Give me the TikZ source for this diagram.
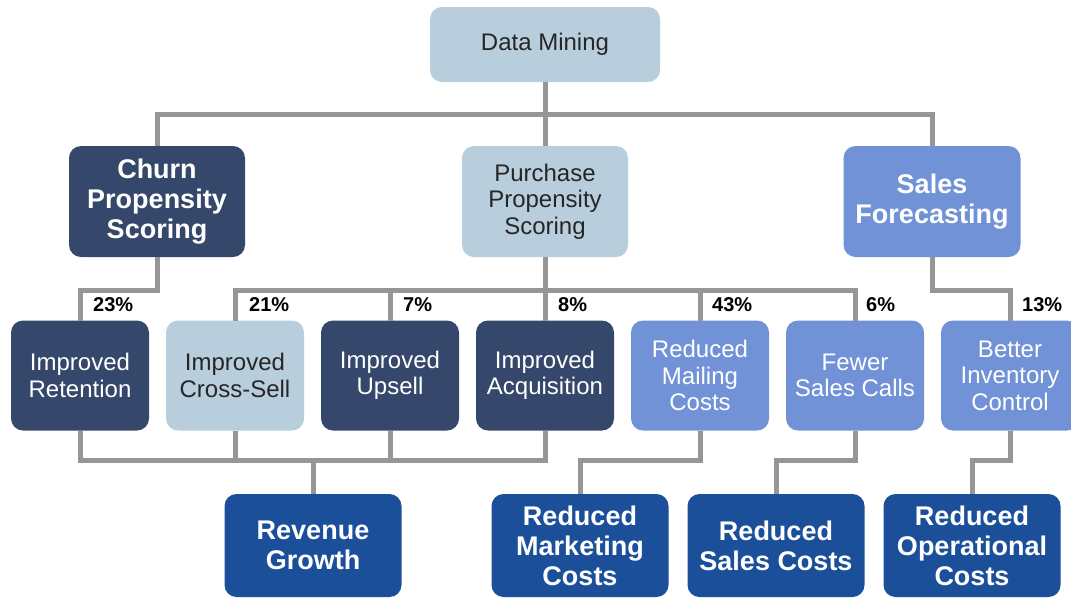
\documentclass[tikz,border=0pt]{standalone}
\usepackage{fontspec}
\setmainfont{Liberation Sans}
\usetikzlibrary{positioning}

\definecolor{pale}{HTML}{B8CEDC}
\definecolor{navy}{HTML}{35476A}
\definecolor{sky}{HTML}{7192D6}
\definecolor{royal}{HTML}{1B4F9A}
\definecolor{wire}{HTML}{969696}

\begin{document}
\begin{tikzpicture}[x=1pt,y=-1pt,
  box/.style={rounded corners=12pt,align=center,inner sep=0pt,outer sep=0pt,font=\fontsize{24}{26.5}\selectfont},
  bold/.style={font=\bfseries\fontsize{27}{30}\selectfont},
  head/.style={box,minimum height=111pt},
  mid/.style={box,minimum width=138pt,minimum height=110pt},
  low/.style={box,bold,minimum width=177pt,minimum height=103pt},
  paleb/.style={fill=pale,text=black!85},
  navyb/.style={fill=navy,text=white},
  skyb/.style={fill=sky,text=white},
  royalb/.style={fill=royal,text=white},
  link/.style={draw=wire,line width=5pt},
  pct/.style={font=\bfseries\fontsize{20}{20}\selectfont,anchor=west,inner sep=0pt},
  node distance=17pt]
\useasboundingbox (0,0) rectangle (1071,598);

% root and the three scoring models
\node[box,paleb,minimum width=230pt,minimum height=75pt] (mining) at (545,44.5) {Data Mining};
\node[head,bold,navyb,minimum width=176pt] (churn) at (157,201.5) {Churn\\Propensity\\Scoring};
\node[head,paleb,minimum width=166pt] (purch) at (545,201.5) {Purchase\\Propensity\\Scoring};
\node[head,bold,skyb,minimum width=177pt] (sales) at (932,201.5) {Sales\\Forecasting};

% benefits
\node[mid,navyb] (ret) at (80,375.5) {Improved\\Retention};
\node[mid,paleb,right=of ret] (xsell) {Improved\\Cross-Sell};
\node[mid,navyb,right=of xsell] (upsell) {Improved\\Upsell};
\node[mid,navyb,right=of upsell] (acq) {Improved\\Acquisition};
\node[mid,skyb,right=of acq] (mail) {Reduced\\Mailing\\Costs};
\node[mid,skyb,right=of mail] (calls) {Fewer\\Sales Calls};
\node[mid,skyb,right=of calls] (inv) {Better\\Inventory\\Control};

% outcomes
\node[low,royalb] (growth) at (313,545.5) {Revenue\\Growth};
\node[low,royalb] (mkt) at (580,545.5) {Reduced\\Marketing\\Costs};
\node[low,royalb,right=19pt of mkt] (salescost) {Reduced\\Sales Costs};
\node[low,royalb,right=19pt of salescost] (ops) {Reduced\\Operational\\Costs};

% tree above
\draw[link] (mining) -- (purch);
\draw[link] (churn.north) -- ++(0,-32) -| (sales.north);
\draw[link] (churn.south) -- ++(0,33) -| (ret.north);
\draw[link] (sales.south) -- ++(0,33) -| (inv.north);
\draw[link] (xsell.north) -- ++(0,-30) -| (calls.north);
\draw[link] (purch) -- (acq);
\foreach \n in {upsell,mail} \draw[link] (\n.north) -- ++(0,-30);

% tree below
\draw[link] (ret.south) -- ++(0,30) -| (acq.south);
\foreach \n in {xsell,upsell} \draw[link] (\n.south) -- ++(0,30);
\draw[link] (growth.north) -- ++(0,-33);
\draw[link] (mail.south) -- ++(0,30) -| (mkt.north);
\draw[link] (calls.south) -- ++(0,30) -| (salescost.north);
\draw[link] (inv.south) -- ++(0,30) -| (ops.north);

% shares
\node[pct] at ([xshift=13pt,yshift=16pt]ret.north) {23\%};
\node[pct] at ([xshift=14pt,yshift=16pt]xsell.north) {21\%};
\node[pct] at ([xshift=13pt,yshift=16pt]upsell.north) {7\%};
\node[pct] at ([xshift=13pt,yshift=16pt]acq.north) {8\%};
\node[pct] at ([xshift=12pt,yshift=16pt]mail.north) {43\%};
\node[pct] at ([xshift=11pt,yshift=16pt]calls.north) {6\%};
\node[pct] at ([xshift=12pt,yshift=16pt]inv.north) {13\%};
\end{tikzpicture}
\end{document}
